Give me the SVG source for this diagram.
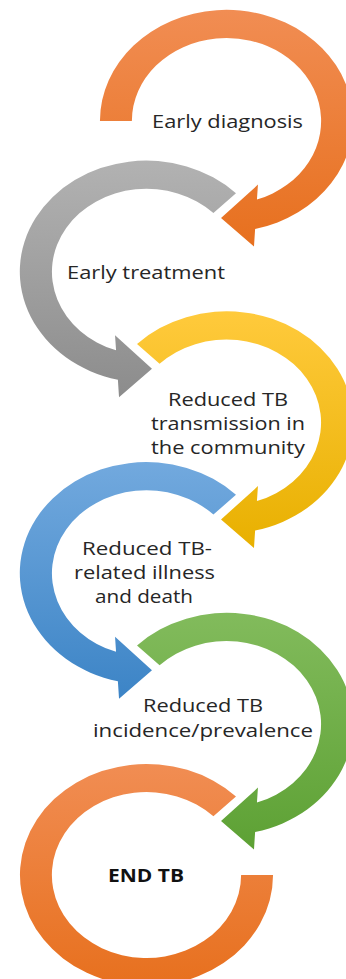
<svg xmlns="http://www.w3.org/2000/svg" xmlns:xlink="http://www.w3.org/1999/xlink" width="346" height="979" viewBox="0 0 346 979">
<defs>
<linearGradient id="gO" x1="0" y1="0" x2="0" y2="1"><stop offset="0" stop-color="#F18D53"/><stop offset="1" stop-color="#E7701E"/></linearGradient>
<linearGradient id="gG" x1="0" y1="0" x2="0" y2="1"><stop offset="0" stop-color="#B2B2B2"/><stop offset="1" stop-color="#8C8C8C"/></linearGradient>
<linearGradient id="gY" x1="0" y1="0" x2="0" y2="1"><stop offset="0" stop-color="#FFCA3C"/><stop offset="1" stop-color="#E8B000"/></linearGradient>
<linearGradient id="gB" x1="0" y1="0" x2="0" y2="1"><stop offset="0" stop-color="#72A9DE"/><stop offset="1" stop-color="#3C84C6"/></linearGradient>
<linearGradient id="gV" x1="0" y1="0" x2="0" y2="1"><stop offset="0" stop-color="#82BB5C"/><stop offset="1" stop-color="#5DA134"/></linearGradient>
<path id="arc" d="M -78.5 -78.5 A 111 111 0 1 1 25.1 108 L 24.1 125.6 L -4.8 97 L 27.6 63.6 L 26.7 78.6 A 83 83 0 1 0 -58.7 -58.7 Z"/>
</defs>
<style>
text{font-family:"Open Sans","Liberation Sans",sans-serif;font-size:18px;fill:#262626;}
.b{font-weight:bold;fill:#111;}
</style>
<g id="early-diagnosis">
<path transform="translate(226.5,121) scale(1.14,1)" fill="url(#gO)" d="M -111 0 A 111 111 0 1 1 25.1 108 L 24.1 125.6 L -4.8 97 L 27.6 63.6 L 26.7 78.6 A 83 83 0 1 0 -83 0 Z"/>
<text x="152" y="128" textLength="151" lengthAdjust="spacingAndGlyphs">Early diagnosis</text>
</g>
<g id="early-treatment">
<use xlink:href="#arc" transform="translate(146.5,271.75) scale(-1.14,1)" fill="url(#gG)"/>
<text x="67" y="279" textLength="158" lengthAdjust="spacingAndGlyphs">Early treatment</text>
</g>
<g id="reduced-transmission">
<use xlink:href="#arc" transform="translate(226.5,422.5) scale(1.14,1)" fill="url(#gY)"/>
<text x="168" y="406" textLength="120" lengthAdjust="spacingAndGlyphs">Reduced TB</text>
<text x="151" y="430" textLength="154" lengthAdjust="spacingAndGlyphs">transmission in</text>
<text x="151" y="454" textLength="154" lengthAdjust="spacingAndGlyphs">the community</text>
</g>
<g id="reduced-illness">
<use xlink:href="#arc" transform="translate(146.5,573.25) scale(-1.14,1)" fill="url(#gB)"/>
<text x="82" y="555" textLength="130" lengthAdjust="spacingAndGlyphs">Reduced TB-</text>
<text x="74" y="579" textLength="141" lengthAdjust="spacingAndGlyphs">related illness</text>
<text x="95" y="603" textLength="98" lengthAdjust="spacingAndGlyphs">and death</text>
</g>
<g id="reduced-incidence">
<use xlink:href="#arc" transform="translate(226.5,724) scale(1.14,1)" fill="url(#gV)"/>
<text x="143" y="712" textLength="120" lengthAdjust="spacingAndGlyphs">Reduced TB</text>
<text x="93" y="737" textLength="220" lengthAdjust="spacingAndGlyphs">incidence/prevalence</text>
</g>
<g id="end-tb">
<path transform="translate(146.5,875) scale(1.14,1)" fill="url(#gO)" d="M 78.5 -78.5 A 111 111 0 1 0 111 0 L 83 0 A 83 83 0 1 1 58.7 -58.7 Z"/>
<text class="b" x="108" y="882" textLength="76" lengthAdjust="spacingAndGlyphs">END TB</text>
</g>
<g id="connectors"/>
</svg>
